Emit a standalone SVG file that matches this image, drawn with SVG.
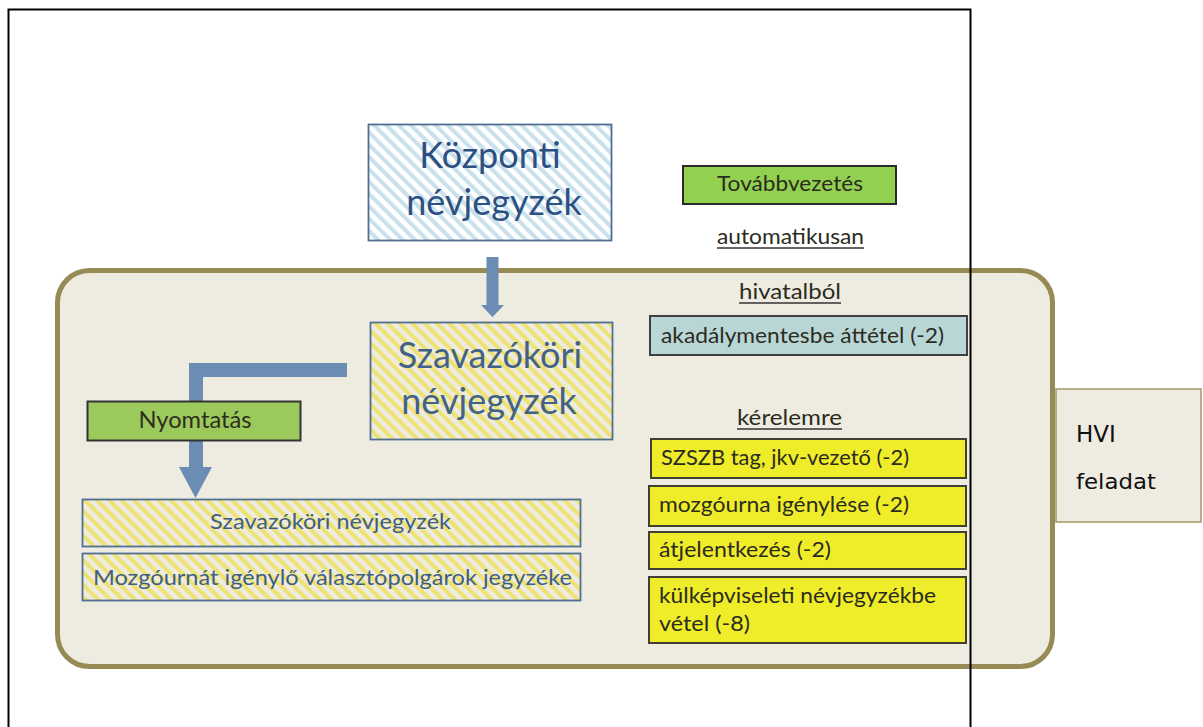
<svg xmlns="http://www.w3.org/2000/svg" width="1203" height="727" viewBox="0 0 1203 727">
<style>
.cal{font-family:Lato,"Liberation Sans",sans-serif;}
.big{font-size:36px;text-anchor:middle;}
.hatchbox{stroke:#516E93;stroke-width:1.8;}
.ybox{fill:#EFEC2A;stroke:#3F3F33;stroke-width:2;}
.lbl{font-size:21px;fill:#2B2B1E;}
.und{stroke:#333;stroke-width:1.3;}
.arrow{fill:#6B8DB3;}
</style>
<defs>
<pattern id="hy" patternUnits="userSpaceOnUse" width="8.7" height="8.7" patternTransform="rotate(-45)">
<rect width="8.7" height="8.7" fill="#EEEBE1"/>
<rect width="4" height="8.7" fill="#EEE372"/>
</pattern>
<pattern id="hb" patternUnits="userSpaceOnUse" width="8.7" height="8.7" patternTransform="rotate(-45)">
<rect width="8.7" height="8.7" fill="#FFFFFF"/>
<rect width="4" height="8.7" fill="#C9E1EC"/>
</pattern>
<linearGradient id="ag" x1="0" y1="0" x2="0" y2="1">
<stop offset="0" stop-color="#4E78AE"/>
<stop offset="1" stop-color="#7092B4"/>
</linearGradient>
</defs>
<rect width="1203" height="727" fill="#FFFFFF"/>

<g id="container">
<rect x="57.5" y="270.5" width="995" height="396" rx="32" ry="32" fill="#EEEBE1" stroke="#968A55" stroke-width="5"/>
</g>

<g id="hvi">
<rect x="1056" y="389" width="145" height="133" fill="#EEEBE1" stroke="#A39866" stroke-width="1.5"/>
<text x="1076" y="442" font-family="'DejaVu Sans',Verdana,sans-serif" font-size="23" fill="#111">HVI</text>
<text x="1076" y="489" font-family="'DejaVu Sans',Verdana,sans-serif" font-size="22" fill="#111" textLength="80" lengthAdjust="spacingAndGlyphs">feladat</text>
</g>

<g id="kozponti">
<rect class="hatchbox" x="368.5" y="124.5" width="243" height="116" fill="url(#hb)"/>
<text class="cal big" x="490" y="168" fill="#2C5082">Központi</text>
<text class="cal big" x="494" y="215" fill="#2C5082">névjegyzék</text>
</g>

<g id="szavazokori">
<rect class="hatchbox" x="370.5" y="322.5" width="242" height="117" fill="url(#hy)"/>
<text class="cal big" x="490" y="368" fill="#426287">Szavazóköri</text>
<text class="cal big" x="489" y="414" fill="#426287">névjegyzék</text>
</g>

<g id="connectors">
<path class="arrow" fill="url(#ag)" d="M486.5,257 H498.5 V305 H504 L492.5,317 L481,305 H486.5 Z"/>
<path class="arrow" d="M347,363 V377 H203 V467 H212 L195.5,498 L179,467 H189 V363 Z"/>
</g>

<g id="nyomtatas">
<rect x="87.5" y="401.5" width="213" height="39" fill="#9BC95C" stroke="#333" stroke-width="2"/>
<text class="cal" x="195" y="428" font-size="23" text-anchor="middle" fill="#2E2E1E" textLength="113" lengthAdjust="spacingAndGlyphs">Nyomtatás</text>
</g>

<g id="list-szavazokori">
<rect class="hatchbox" x="82.5" y="499.5" width="498" height="47" fill="url(#hy)"/>
<text class="cal" x="210" y="529" font-size="21" fill="#3E5F85" textLength="241" lengthAdjust="spacingAndGlyphs">Szavazóköri névjegyzék</text>
</g>

<g id="list-mozgo">
<rect class="hatchbox" x="82.5" y="553.5" width="498" height="47" fill="url(#hy)"/>
<text class="cal" x="93" y="585" font-size="21" fill="#3E5F85" textLength="479" lengthAdjust="spacingAndGlyphs">Mozgóurnát igénylő választópolgárok jegyzéke</text>
</g>

<g id="tovabb">
<rect x="683" y="166" width="213" height="38" fill="#92D050" stroke="#2A2A2A" stroke-width="2"/>
<text class="cal lbl" x="717" y="191" textLength="146" lengthAdjust="spacingAndGlyphs">Továbbvezetés</text>
</g>

<g id="automatikusan">
<text class="cal lbl" x="717" y="244" textLength="147" lengthAdjust="spacingAndGlyphs">automatikusan</text>
<line class="und" x1="717" y1="248" x2="864" y2="248"/>
</g>

<g id="hivatalbol">
<text class="cal lbl" x="739" y="299" fill="#3A3A4A" textLength="102" lengthAdjust="spacingAndGlyphs">hivatalból</text>
<line class="und" x1="739" y1="303" x2="841" y2="303"/>
</g>

<g id="akadaly">
<rect x="650" y="316" width="317" height="39" fill="#B9D6D6" stroke="#3F3F3F" stroke-width="2"/>
<text class="cal lbl" x="661" y="343" fill="#3A3A2E" textLength="283" lengthAdjust="spacingAndGlyphs">akadálymentesbe áttétel (-2)</text>
</g>

<g id="kerelemre">
<text class="cal lbl" x="737" y="425" fill="#3A3A4A" textLength="105" lengthAdjust="spacingAndGlyphs">kérelemre</text>
<line class="und" x1="737" y1="429" x2="842" y2="429"/>
</g>

<g id="szszb">
<rect class="ybox" x="651" y="439" width="315" height="39"/>
<text class="cal lbl" x="661" y="465" textLength="248" lengthAdjust="spacingAndGlyphs">SZSZB tag, jkv-vezető (-2)</text>
</g>

<g id="mozgourna">
<rect class="ybox" x="649" y="486" width="317" height="40"/>
<text class="cal lbl" x="659" y="512" textLength="250" lengthAdjust="spacingAndGlyphs">mozgóurna igénylése (-2)</text>
</g>

<g id="atjel">
<rect class="ybox" x="649" y="532" width="317" height="37"/>
<text class="cal lbl" x="659" y="557" textLength="172" lengthAdjust="spacingAndGlyphs">átjelentkezés (-2)</text>
</g>

<g id="kulkep">
<rect class="ybox" x="649" y="577" width="317" height="66"/>
<text class="cal lbl" x="659" y="603" textLength="277" lengthAdjust="spacingAndGlyphs">külképviseleti névjegyzékbe</text>
<text class="cal lbl" x="659" y="631" textLength="91" lengthAdjust="spacingAndGlyphs">vétel (-8)</text>
</g>

<g id="frame" fill="none" stroke="#000" stroke-width="2">
<polyline points="8.5,727 8.5,9.5 970.5,9.5 970.5,727"/>
</g>
</svg>
